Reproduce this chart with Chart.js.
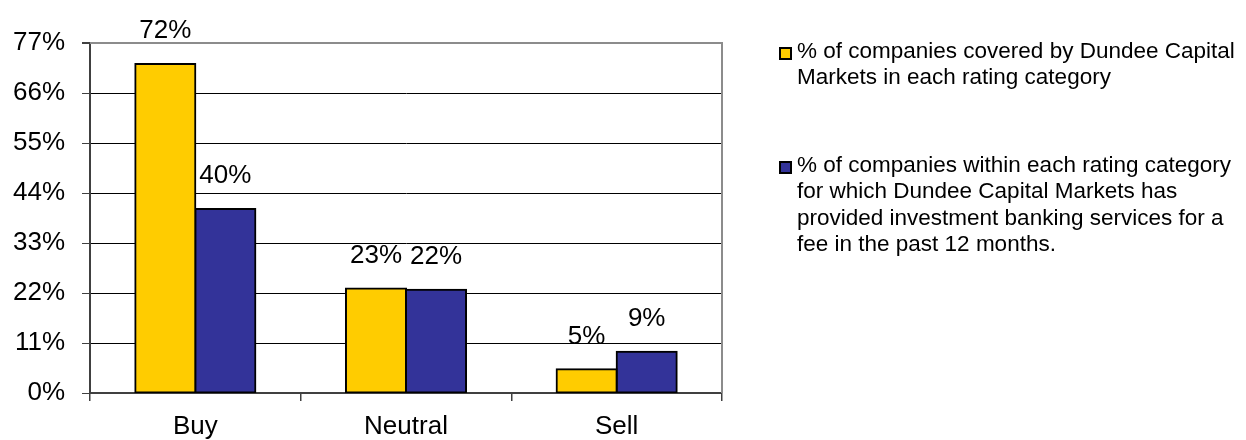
<!DOCTYPE html>
<html>
<head>
<meta charset="utf-8">
<script src="https://cdn.jsdelivr.net/npm/chart.js@4/dist/chart.umd.min.js"></script>
<style>
  html, body { margin: 0; padding: 0; background: #fff; }
  #wrap { position: relative; width: 1246px; height: 440px; }
  #c { position: absolute; left: 0; top: 0; }
  .leg { position: absolute; font-family: "Liberation Sans", Arial, sans-serif; font-size: 22.5px; line-height: 26.3px; color: #000; white-space: nowrap; }
  .mk { position: absolute; width: 13px; height: 13px; box-sizing: border-box; border: 2px solid #000; }
</style>
</head>
<body>
<div id="wrap">
  <canvas id="c" width="1246" height="440"></canvas>
  <div id="legend"></div>
</div>
<script>
// ---- data ----
const categories = ['Buy', 'Neutral', 'Sell'];
const coveredValues = [72.4, 23.0, 5.2];
const bankingValues = [40.5, 22.7, 9.1];
const coveredLabels = ['72%', '23%', '5%'];
const bankingLabels = ['40%', '22%', '9%'];
const seriesNames = [
  ['% of companies covered by Dundee Capital', 'Markets in each rating category'],
  ['% of companies within each rating category', 'for which Dundee Capital Markets has', 'provided investment banking services for a', 'fee in the past 12 months.']
];
const yTicks = [0, 11, 22, 33, 44, 55, 66, 77];

const FONT = '"Liberation Sans", Arial, sans-serif';
const colors = ['#FFCC00', '#333399'];
const dataLabels = [coveredLabels, bankingLabels];

// legend (HTML, multi-line)
const legend = document.getElementById('legend');
const legTops = [38, 152];
seriesNames.forEach((lines, i) => {
  const mk = document.createElement('div');
  mk.className = 'mk';
  mk.style.left = '779px';
  mk.style.top = (legTops[i] + 9) + 'px';
  mk.style.background = colors[i];
  legend.appendChild(mk);
  const t = document.createElement('div');
  t.className = 'leg';
  t.style.left = '797px';
  t.style.top = legTops[i] + 'px';
  t.innerHTML = lines.join('<br>');
  legend.appendChild(t);
});

const frame = {
  id: 'frame',
  afterDatasetsDraw(chart) {
    const { ctx, chartArea: a } = chart;
    ctx.save();
    ctx.strokeStyle = '#8c8c8c';
    ctx.lineWidth = 2;
    ctx.beginPath();
    ctx.moveTo(a.left, a.top);
    ctx.lineTo(a.right, a.top);
    ctx.lineTo(a.right, a.bottom);
    ctx.stroke();
    // data labels
    ctx.fillStyle = '#000';
    ctx.font = '26px ' + FONT;
    ctx.textAlign = 'center';
    ctx.textBaseline = 'middle';
    chart.data.datasets.forEach((ds, di) => {
      chart.getDatasetMeta(di).data.forEach((el, i) => {
        ctx.fillText(dataLabels[di][i], el.x, el.y - 33);
      });
    });
    ctx.restore();
  }
};

new Chart(document.getElementById('c'), {
  type: 'bar',
  data: {
    labels: categories,
    datasets: [
      { label: seriesNames[0].join(' '), data: coveredValues, backgroundColor: colors[0], borderColor: '#000', borderWidth: 2, borderSkipped: false, inflateAmount: 1 },
      { label: seriesNames[1].join(' '), data: bankingValues, backgroundColor: colors[1], borderColor: '#000', borderWidth: 2, borderSkipped: false, inflateAmount: 1 }
    ]
  },
  options: {
    responsive: false,
    animation: false,
    devicePixelRatio: 1,
    layout: { padding: { left: 0, right: 524, top: 43, bottom: 0 } },
    plugins: { legend: { display: false }, tooltip: { enabled: false } },
    datasets: { bar: { categoryPercentage: 0.57, barPercentage: 1.0 } },
    scales: {
      x: {
        offset: true,
        grid: { offset: true, drawOnChartArea: false, drawTicks: true, tickLength: 8, color: '#404040', lineWidth: 1.5 },
        border: { color: '#404040', width: 2 },
        ticks: { font: { family: FONT, size: 26 }, color: '#000', padding: 10 },
        afterFit(s) { s.height = 47; }
      },
      y: {
        min: 0, max: 77,
        afterBuildTicks(s) { s.ticks = yTicks.map(v => ({ value: v })); },
        grid: {
          color: (c) => c.tick && c.tick.value === 77 ? '#8c8c8c' : '#000',
          lineWidth: (c) => c.tick && c.tick.value === 77 ? 2 : 1,
          tickColor: '#404040',
          tickLength: 8
        },
        border: { color: '#404040', width: 2 },
        ticks: { font: { family: FONT, size: 26 }, color: '#000', padding: 17, callback: (v) => v + '%' },
        afterFit(s) { s.width = 90; }
      }
    }
  },
  plugins: [frame]
});
</script>
</body>
</html>
